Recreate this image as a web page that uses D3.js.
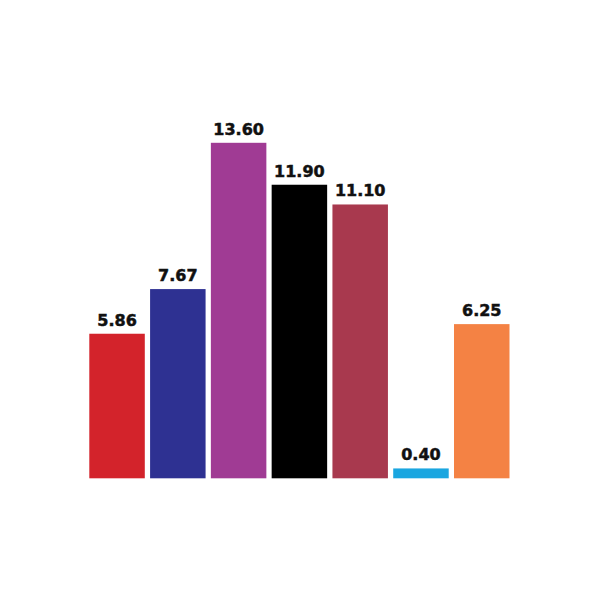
<!DOCTYPE html>
<html>
<head>
<meta charset="utf-8">
<script src="https://cdn.jsdelivr.net/npm/d3@7"></script>
<style>
html,body{margin:0;padding:0;background:#fff;}
</style>
</head>
<body>
<svg id="chart" width="600" height="600"></svg>
<script>
const categories = ["A","B","C","D","E","F","G"];
const values = [5.86, 7.67, 13.60, 11.90, 11.10, 0.40, 6.25];
const labels = ["5.86","7.67","13.60","11.90","11.10","0.40","6.25"];
const colors = ["#d3232b","#2e3192","#a03b94","#000000","#a8394e","#1aa6e0","#f48244"];

const svg = d3.select("#chart");
svg.append("rect").attr("width",600).attr("height",600).attr("fill","#fff");

const x = d3.scaleBand().domain(categories).range([89.3, 509.5]).paddingInner(0.087).paddingOuter(0);
const y = d3.scaleLinear().domain([0, 13.6]).range([478.3, 142.8]);

svg.selectAll("rect.bar").data(values).join("rect")
  .attr("class","bar")
  .attr("x",(d,i)=>x(categories[i]))
  .attr("width",x.bandwidth())
  .attr("y",d=>y(d))
  .attr("height",d=>y(0)-y(d))
  .attr("fill",(d,i)=>colors[i]);

svg.selectAll("text.lbl").data(values).join("text")
  .attr("class","lbl")
  .attr("x",(d,i)=>x(categories[i])+x.bandwidth()/2)
  .attr("y",d=>y(d)-8)
  .attr("text-anchor","middle")
  .attr("font-family","DejaVu Sans")
  .attr("font-weight","bold")
  .attr("font-size",16)
  .attr("fill","#111")
  .attr("stroke","#111")
  .attr("stroke-width",0.5)
  .text((d,i)=>labels[i]);
</script>
</body>
</html>
